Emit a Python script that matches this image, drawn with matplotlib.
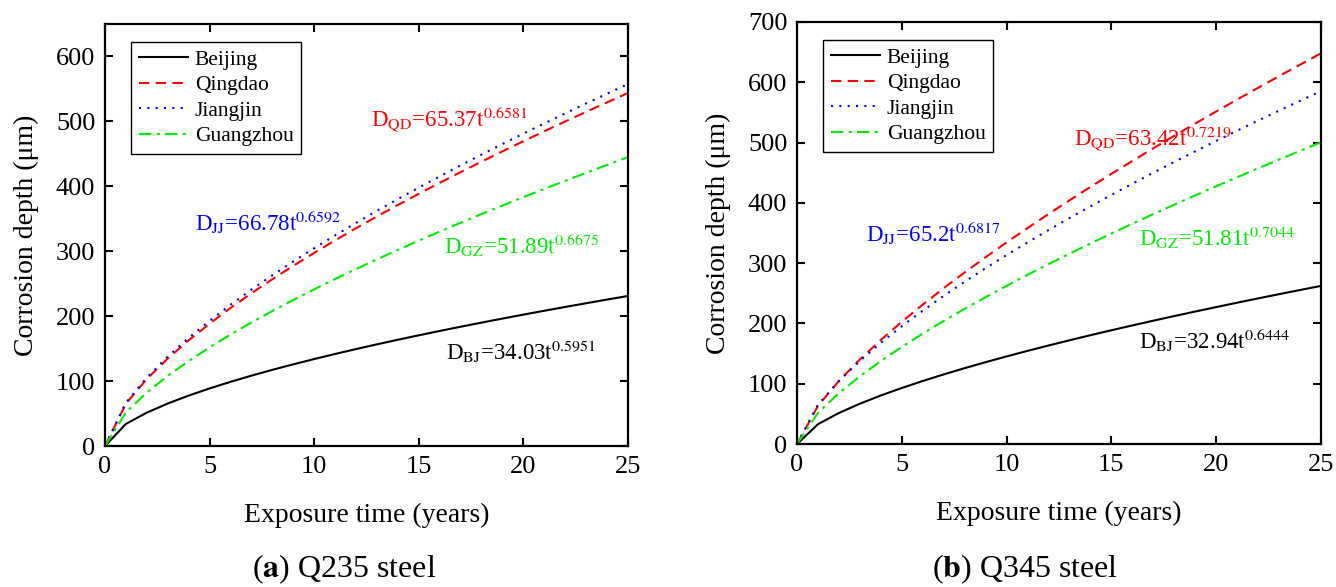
import numpy as np
import matplotlib
matplotlib.use('Agg')
import matplotlib.pyplot as plt

plt.rcParams['font.family'] = ['Liberation Serif', 'DejaVu Serif']
plt.rcParams['mathtext.fontset'] = 'stix'

# Fitted power-law parameters D = a * t^b for each exposure site
cities = ['Beijing', 'Qingdao', 'Jiangjin', 'Guangzhou']
tags = ['BJ', 'QD', 'JJ', 'GZ']
a_q235 = [34.03, 65.37, 66.78, 51.89]
b_q235 = [0.5951, 0.6581, 0.6592, 0.6675]
a_q345 = [32.94, 63.42, 65.2, 51.81]
b_q345 = [0.6444, 0.7219, 0.6817, 0.7044]
years = np.arange(0, 26)

colors = ['black', 'red', 'blue', '#00ee00']
styles = ['-', (0, (5, 3)), (0, (1, 3)), (0, (6, 2.5, 1.5, 2.5))]

# label positions (data coords) for the fit equations
pos_q235 = {'BJ': (16.3, 145), 'QD': (12.7, 503), 'JJ': (4.3, 345), 'GZ': (16.2, 310)}
pos_q345 = {'BJ': (16.3, 172), 'QD': (13.2, 507), 'JJ': (3.3, 350), 'GZ': (16.3, 342)}


def draw_panel(ax, a_list, b_list, pos, ymax):
    for city, tag, a, b, c, ls in zip(cities, tags, a_list, b_list, colors, styles):
        depth = a * years.astype(float) ** b
        ax.plot(years, depth, color=c, linestyle=ls, lw=1.5, label=city)
        x, y = pos[tag]
        ax.text(x, y, r'D$_{\mathrm{%s}}$=%s$\mathrm{t}^{%s}$' % (tag, a, b),
                color=c, fontsize=16.5, va='center', ha='left')
    ax.set_xlim(0, 25)
    ax.set_ylim(0, ymax)
    ax.set_xticks(np.arange(0, 26, 5))
    ax.set_yticks(np.arange(0, ymax + 1, 100))
    ax.tick_params(direction='in', top=True, right=True, labelsize=19,
                   length=6, width=1.5, pad=7)
    for sp in ax.spines.values():
        sp.set_linewidth(1.6)
    ax.set_xlabel('Exposure time (years)', fontsize=20, labelpad=18)
    ax.set_ylabel('Corrosion depth (μm)', fontsize=20, labelpad=12)
    leg = ax.legend(loc='upper left', bbox_to_anchor=(0.05, 0.957), fontsize=15.5,
                    fancybox=False, edgecolor='black', framealpha=1,
                    handlelength=2.3, borderpad=0.35, labelspacing=0.25,
                    handletextpad=0.3, borderaxespad=0)
    leg.get_frame().set_linewidth(1.0)


fig = plt.figure(figsize=(13.36, 5.87), dpi=100)
ax1 = fig.add_axes([0.0786, 0.2402, 0.3915, 0.719])
ax2 = fig.add_axes([0.5966, 0.2436, 0.392, 0.719])

draw_panel(ax1, a_q235, b_q235, pos_q235, 650)
draw_panel(ax2, a_q345, b_q345, pos_q345, 700)

fig.text(0.2575, 0.001, r'($\mathbf{a}$) Q235 steel', ha='center', va='bottom', fontsize=23)
fig.text(0.767, 0.001, r'($\mathbf{b}$) Q345 steel', ha='center', va='bottom', fontsize=23)

fig.savefig('out.png', dpi=100)
